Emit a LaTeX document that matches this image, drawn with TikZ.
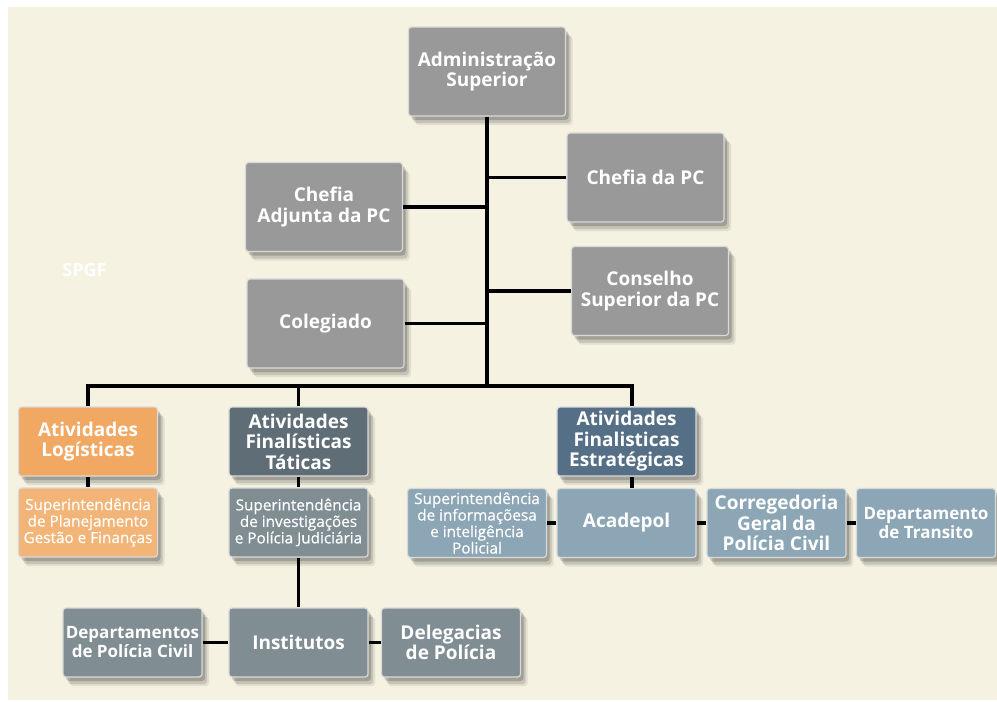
\documentclass[tikz,border=0pt]{standalone}
\usepackage{fontspec}
\setmainfont{Open Sans}
\newfontfamily\smallface{Open Sans}[FakeBold=0.6]
\usepackage{xcolor}
\usepackage{tikz}
\usetikzlibrary{positioning, shadows}

\definecolor{cream}{RGB}{245,242,226}
\definecolor{topgray}{RGB}{153,153,153}
\definecolor{logdark}{RGB}{240,168,98}
\definecolor{loglight}{RGB}{243,180,120}
\definecolor{tatdark}{RGB}{95,110,118}
\definecolor{tatlight}{RGB}{128,142,148}
\definecolor{estdark}{RGB}{85,112,134}
\definecolor{estlight}{RGB}{140,166,182}

\newcommand{\bigtxt}{\fontsize{19}{20.5}\selectfont\bfseries}
\newcommand{\midtxt}{\fontsize{17}{19}\selectfont\bfseries}
\newcommand{\smalltxt}{\smallface\fontsize{15.3}{16.5}\selectfont}

\begin{document}
\begin{tikzpicture}[x=1pt, y=-1pt,
    box/.style={rounded corners=3pt, draw=white!85!black, line width=1.2pt, text=white,
      align=center, inner sep=1pt,
      drop shadow={shadow xshift=7pt, shadow yshift=-9pt, opacity=0.08, fill=black},
      drop shadow={shadow xshift=5pt, shadow yshift=-7pt, opacity=0.12, fill=black},
      drop shadow={shadow xshift=3pt, shadow yshift=-4pt, opacity=0.18, fill=black}},
    topbox/.style={box, fill=topgray, minimum width=157pt, minimum height=89pt, font=\bigtxt},
    lowbox/.style={box, minimum width=139pt, minimum height=69pt},
    link/.style={line width=3.4pt, black}]

      % Page and background
      \useasboundingbox (0,0) rectangle (997,702);
      \fill[white] (0,0) rectangle (997,702);
      \fill[cream] (8,7) rectangle (997,700);
      \node[text=white, font=\fontsize{18}{20}\selectfont\bfseries] (spgf) at (84.5,270.5) {SPGF};

      % Upper level
      \node[topbox] (admin) at (487,71.5) {Administração\\Superior};
      \node[topbox] (chefia) at (645.5,177.5) {Chefia da PC};
      \node[topbox] (adjunta) at (324,207) {Chefia\\Adjunta da PC};
      \node[topbox] (conselho) at (650,291) {Conselho\\Superior da PC};
      \node[topbox] (colegiado) at (325.5,323.5) {Colegiado};

      % Trunk and bus
      \coordinate (busM) at (487,386);
      \coordinate (busL) at (88,386);
      \coordinate (busR) at (632,386);
      \draw[link] (admin.south) -- (busM);
      \foreach \n in {chefia, conselho} {
        \draw[link] (\n.west) -- (\n.west -| busM);
      }
      \foreach \n in {adjunta, colegiado} {
        \draw[link] (\n.east) -- (\n.east -| busM);
      }
      \draw[link, line cap=rect] (busL) -- (busR);

      % Atividades Logisticas
      \node[lowbox, fill=logdark, font=\bigtxt] (logist) at (88,441.5) {Atividades\\Logísticas};
      \node[lowbox, fill=loglight, font=\smalltxt] (planej) at (88,522.5) {Superintendência\\de Planejamento\\Gestão e Finanças};

      % Atividades Finalisticas Taticas
      \node[lowbox, fill=tatdark, font=\bigtxt] (taticas) at (298.5,441.5) {Atividades\\Finalísticas\\Táticas};
      \node[lowbox, fill=tatlight, font=\smalltxt] (investig) at (298.5,522.5) {Superintendência\\de investigações\\e Polícia Judiciária};
      \node[lowbox, fill=tatlight, font=\midtxt] (deptos) at (132.5,642.5) {Departamentos\\de Polícia Civil};
      \node[lowbox, fill=tatlight, font=\bigtxt] (institutos) at (298.5,642.5) {Institutos};
      \node[lowbox, fill=tatlight, font=\bigtxt] (delegacias) at (451,642.5) {Delegacias\\de Polícia};

      % Atividades Finalisticas Estrategicas
      \node[lowbox, fill=estdark, font=\bigtxt] (estrateg) at (626.5,441.5) {Atividades\\Finalisticas\\Estratégicas};
      \node[lowbox, fill=estlight, font=\smalltxt] (inform) at (477,523) {Superintendência\\de informaçõesa\\e inteligência\\Policial};
      \node[lowbox, fill=estlight, font=\bigtxt] (acadepol) at (626.5,523) {Acadepol};
      \node[lowbox, fill=estlight, font=\bigtxt] (correg) at (776.5,523) {Corregedoria\\Geral da\\Polícia Civil};
      \node[lowbox, fill=estlight, font=\midtxt] (transito) at (926,523) {Departamento\\de Transito};

      % Drops from the bus
      \draw[link] (busL) -- (logist.north);
      \draw[link] (taticas.north |- busM) -- (taticas.north);
      \draw[link] (busR) -- (busR |- estrateg.north);

      % Links below the headers
      \draw[link] (logist.south) -- (planej.north);
      \draw[link] (taticas.south) -- (investig.north);
      \draw[link] (investig.south) -- (institutos.north);
      \draw[link] (estrateg.south -| busR) -- (acadepol.north -| busR);
      \foreach \a/\b in {deptos/institutos, institutos/delegacias, inform/acadepol, acadepol/correg, correg/transito} {
        \draw[link] (\a.east) -- (\b.west);
      }
    \end{tikzpicture}
\end{document}
